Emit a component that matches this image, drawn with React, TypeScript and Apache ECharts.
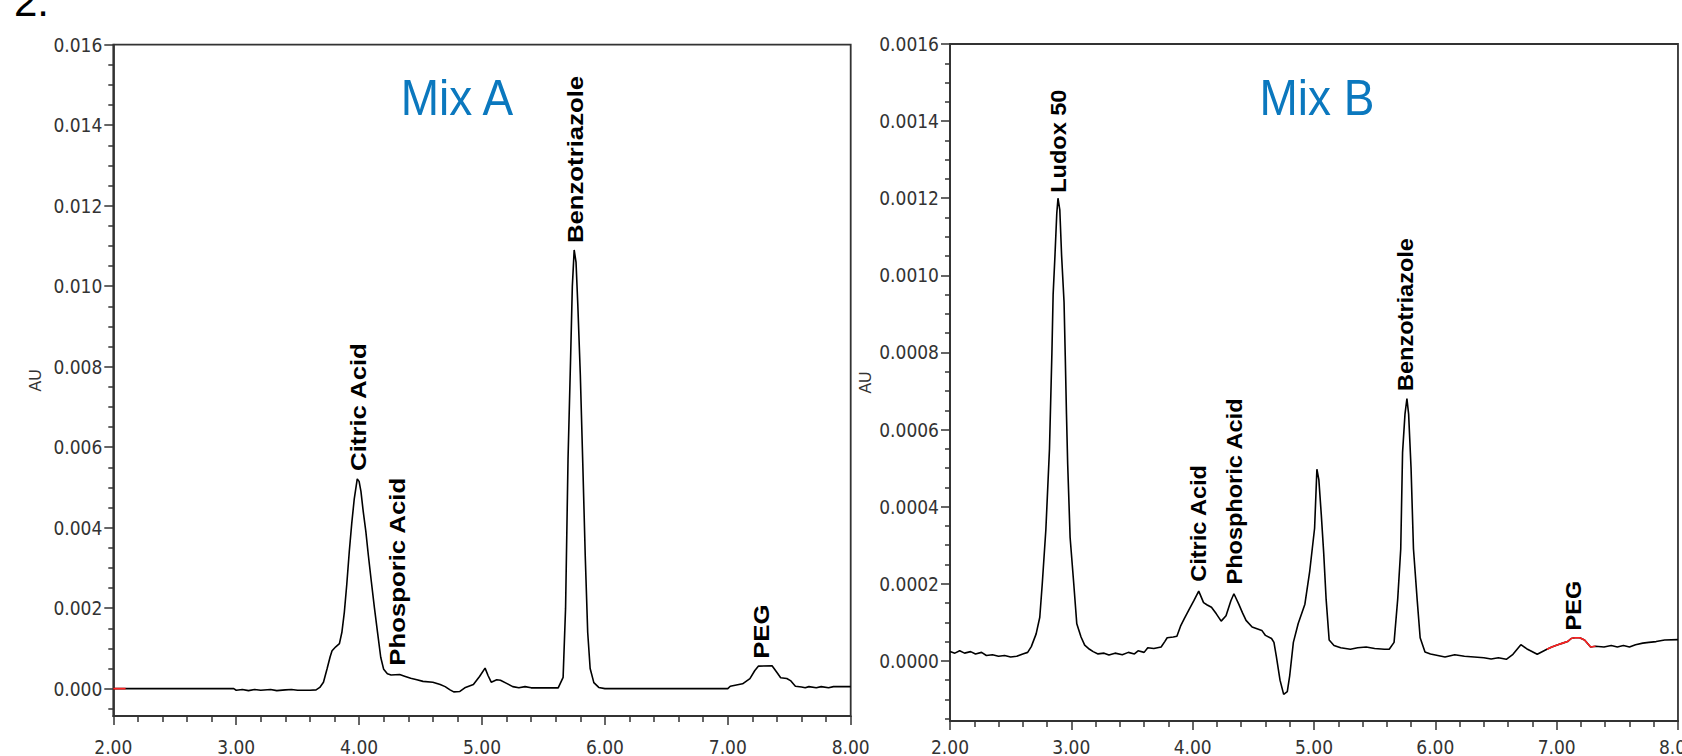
import React, { useEffect, useRef } from "react";
import * as echarts from "echarts";

// ---------- Mix A chromatogram (minutes, AU) ----------
const mixATime = [
  2.0, 2.98, 3.0, 3.05, 3.1, 3.15, 3.2, 3.28, 3.33, 3.4, 3.45, 3.5, 3.6, 3.65,
  3.68, 3.71, 3.74, 3.765, 3.78, 3.81, 3.84, 3.86, 3.88, 3.9, 3.92, 3.94, 3.96,
  3.985, 4.0, 4.015, 4.034, 4.055, 4.075, 4.1, 4.125, 4.15, 4.176, 4.2, 4.23,
  4.26, 4.33, 4.37, 4.42, 4.47, 4.52, 4.6, 4.66, 4.7, 4.74, 4.77, 4.82, 4.86,
  4.93, 4.98, 5.025, 5.05, 5.075, 5.12, 5.15, 5.2, 5.25, 5.3, 5.35, 5.4, 5.5,
  5.62, 5.66, 5.68, 5.7, 5.72, 5.735, 5.75, 5.765, 5.78, 5.8, 5.82, 5.84, 5.86,
  5.88, 5.91, 5.95, 6.0, 7.0, 7.02, 7.12, 7.18, 7.22, 7.25, 7.36, 7.4, 7.43,
  7.48, 7.51, 7.55, 7.6, 7.63, 7.66, 7.72, 7.76, 7.82, 7.86, 7.92, 8.0,
];
const mixAAU = [
  0, 0, -0.00004, -0.00002, -0.00005, -0.00002, -0.00004, -0.00002, -0.00005,
  -0.00003, -0.00002, -0.00004, -0.00004, -0.00003, 0.00003, 0.00016, 0.0005,
  0.0008, 0.00094, 0.00104, 0.00112, 0.0014, 0.0019, 0.0026, 0.0034, 0.0041,
  0.0047, 0.00521, 0.00515, 0.0049, 0.00439, 0.0039, 0.00332, 0.00265, 0.002,
  0.0014, 0.00078, 0.00048, 0.00037, 0.00034, 0.00035, 0.00031, 0.00026,
  0.00022, 0.00018, 0.00016, 0.0001, 0.00005, -0.00003, -0.00008, -0.00007,
  0.00002, 0.0001, 0.0003, 0.00051, 0.00032, 0.00016, 0.00022, 0.00021, 0.00013,
  0.00005, 0.00002, 0.00005, 0.00002, 0.00002, 0.00002, 0.00028, 0.002, 0.0057,
  0.0081, 0.01, 0.0109, 0.0106, 0.0095, 0.0078, 0.0056, 0.0033, 0.0014, 0.0005,
  0.00015, 0.00003, 0, 0, 0.00006, 0.00012, 0.00025, 0.00045, 0.00056, 0.00057,
  0.0004, 0.00027, 0.00025, 0.0002, 0.00006, 0.00004, 0.00002, 0.00005, 0.00002,
  0.00005, 0.00002, 0.00005, 0.00005, 0.00005,
];
const mixARedTime = [2.0, 2.1];
const mixARedAU = [0, 0];

// ---------- Mix B chromatogram (minutes, AU) ----------
const mixBTime = [
  2.0, 2.04, 2.08, 2.12, 2.17, 2.21, 2.26, 2.3, 2.35, 2.4, 2.45, 2.5, 2.55, 2.6,
  2.64, 2.67, 2.71, 2.74, 2.76, 2.79, 2.82, 2.84, 2.85, 2.865, 2.88, 2.89, 2.905,
  2.92, 2.94, 2.95, 2.96, 2.97, 2.99, 3.02, 3.045, 3.08, 3.11, 3.15, 3.18, 3.22,
  3.27, 3.31, 3.36, 3.42, 3.47, 3.52, 3.55, 3.6, 3.63, 3.68, 3.74, 3.77, 3.79,
  3.84, 3.87, 3.9, 3.93, 3.98, 4.01, 4.05, 4.09, 4.12, 4.155, 4.195, 4.235,
  4.275, 4.315, 4.34, 4.38, 4.41, 4.44, 4.49, 4.57, 4.6, 4.65, 4.67, 4.69, 4.72,
  4.75, 4.78, 4.8, 4.83, 4.87, 4.925, 4.965, 5.005, 5.024, 5.04, 5.06, 5.08, 5.1,
  5.125, 5.165, 5.22, 5.3, 5.36, 5.43, 5.5, 5.58, 5.62, 5.66, 5.69, 5.715, 5.73,
  5.75, 5.766, 5.78, 5.8, 5.82, 5.85, 5.875, 5.915, 5.96, 6.02, 6.08, 6.16, 6.24,
  6.32, 6.4, 6.46, 6.52, 6.585, 6.64, 6.705, 6.76, 6.84, 7.39, 7.45,
  7.5, 7.55, 7.6, 7.65, 7.71, 7.76, 7.82, 7.89, 8.0,
];
const mixBAU = [
  0.000024, 0.00002, 0.000026, 0.00002, 0.000024, 0.000018, 0.000022, 0.000014,
  0.000016, 0.000012, 0.000014, 0.00001, 0.000012, 0.000018, 0.000022, 0.000037,
  0.00007, 0.000113, 0.000198, 0.00034, 0.00055, 0.0008, 0.00095, 0.00105,
  0.00116, 0.0012, 0.00117, 0.00105, 0.00093, 0.00079, 0.00064, 0.00051, 0.00032,
  0.0002, 0.000096, 0.000062, 0.000041, 0.00003, 0.000024, 0.000018, 0.00002,
  0.000015, 0.00002, 0.000016, 0.000022, 0.000018, 0.000026, 0.000022, 0.000034,
  0.000032, 0.000036, 0.00005, 0.00006, 0.000062, 0.000064, 0.00009, 0.000109,
  0.000139, 0.000156, 0.000181, 0.000151, 0.000145, 0.000139, 0.000122,
  0.000103, 0.000117, 0.000156, 0.000174, 0.000147, 0.000125, 0.000105,
  0.000088, 0.000079, 0.000066, 0.000058, 0.000048, 0.000011, -0.00005,
  -0.000087, -0.00008, -0.000038, 0.000048, 0.000097, 0.000147, 0.000233,
  0.000344, 0.000497, 0.00047, 0.00038, 0.00028, 0.00016, 0.000054, 0.00004,
  0.000034, 0.00003, 0.000034, 0.000036, 0.000032, 0.00003, 0.00003, 0.000048,
  0.00016, 0.00029, 0.00054, 0.00064, 0.00068, 0.00064, 0.0005, 0.00029,
  0.00016, 0.00006, 0.000023, 0.000018, 0.000014, 0.00001, 0.000016, 0.000012,
  0.00001, 0.000008, 0.000005, 0.000008, 0.000004, 0.000017, 0.000042, 0.00003,
  0.000017, 0.000036, 0.00004, 0.000036, 0.00004, 0.000036,
  0.000042, 0.000046, 0.000048, 0.00005, 0.000054, 0.000055,
];
// PEG integration segment (drawn in red, part of the Mix B trace)
const mixBRedTime = [6.92, 6.96, 7.01, 7.05, 7.09, 7.12, 7.15, 7.19, 7.23, 7.28, 7.32];
const mixBRedAU = [
  0.00003, 0.000036, 0.000042, 0.000046, 0.00005, 0.000058, 0.00006, 0.00006,
  0.000054, 0.000036, 0.000038,
];

// ---------- peak labels ----------
const mixALabelNames = ["Citric Acid", "Phosporic Acid", "Benzotriazole", "PEG"];
const mixALabelTime = [3.99, 4.31, 5.762, 7.27];
const mixALabelAU = [0.00541, 0.00057, 0.01107, 0.00074];

const mixBLabelNames = ["Ludox 50", "Citric Acid", "Phosphoric Acid", "Benzotriazole", "PEG"];
const mixBLabelTime = [2.889, 4.049, 4.34, 5.755, 7.14];
const mixBLabelAU = [0.001214, 0.000205, 0.000198, 0.0007, 0.000079];

// ---------- axes ----------
const xTickValues = [2, 3, 4, 5, 6, 7, 8];
const mixAYTicks = [0, 0.002, 0.004, 0.006, 0.008, 0.01, 0.012, 0.014, 0.016];
const mixBYTicks = [0, 0.0002, 0.0004, 0.0006, 0.0008, 0.001, 0.0012, 0.0014, 0.0016];
const mixAYRange = [-0.00068, 0.016];
const mixBYRange = [-0.000156, 0.0016];

const minorOf = (majors: number[], below: number) => {
  const step = (majors[1] - majors[0]) / 4;
  const out: number[] = [];
  for (let k = 1; k <= below; k++) out.push(+(-step * k).toFixed(8));
  for (let i = 0; i < majors.length - 1; i++) {
    for (let k = 1; k < 4; k++) out.push(+(majors[i] + step * k).toFixed(8));
  }
  return out;
};

const pairs = (xs: number[], ys: number[]) => xs.map((x, i) => [x, ys[i]]);
const merged = (a: number[][], b: number[][]) => [...a, ...b].sort((p, q) => p[0] - q[0]);

const TICK_FONT = "'Liberation Sans Narrow','Arial Narrow','DejaVu Sans Condensed',sans-serif";
const SANS = "'Liberation Sans',Arial,Helvetica,sans-serif";
const AXIS_COLOR = "#333";

export default function App() {
  const ref = useRef<HTMLDivElement>(null);

  useEffect(() => {
    if (!ref.current) return;
    const chart = echarts.init(ref.current, undefined, { renderer: "svg" });

    const xAxis = (gridIndex: number, margin: number) => ({
      type: "value",
      gridIndex,
      min: xTickValues[0],
      max: xTickValues[xTickValues.length - 1],
      interval: 1,
      axisLine: { show: true, onZero: false, lineStyle: { color: AXIS_COLOR, width: 1.8 } },
      axisTick: { show: true, length: 9, lineStyle: { color: AXIS_COLOR, width: 1.5 } },
      minorTick: { show: true, splitNumber: 5, length: 6, lineStyle: { color: AXIS_COLOR, width: 1.5 } },
      splitLine: { show: false },
      minorSplitLine: { show: false },
      axisLabel: {
        margin,
        color: AXIS_COLOR,
        fontFamily: TICK_FONT,
        fontSize: 19,
        formatter: (v: number) => v.toFixed(2),
      },
    });

    const yMajor = (gridIndex: number, range: number[], ticks: number[], dec: number, gap: number) => ({
      type: "value",
      gridIndex,
      position: "left",
      min: range[0],
      max: range[1],
      axisLine: { show: true, onZero: false, lineStyle: { color: AXIS_COLOR, width: 1.8 } },
      axisTick: { show: true, length: 9, customValues: ticks, lineStyle: { color: AXIS_COLOR, width: 1.5 } },
      axisLabel: {
        customValues: ticks,
        margin: 11,
        color: AXIS_COLOR,
        fontFamily: TICK_FONT,
        fontSize: 19,
        formatter: (v: number) => v.toFixed(dec),
      },
      splitLine: { show: false },
      name: "AU",
      nameLocation: "middle",
      nameGap: gap,
      nameTextStyle: { color: AXIS_COLOR, fontFamily: SANS, fontSize: 16 },
    });

    const yMinor = (gridIndex: number, range: number[], ticks: number[], below: number) => ({
      type: "value",
      gridIndex,
      position: "left",
      min: range[0],
      max: range[1],
      axisLine: { show: false, onZero: false },
      axisTick: { show: true, length: 5, customValues: minorOf(ticks, below), lineStyle: { color: AXIS_COLOR, width: 1.5 } },
      axisLabel: { show: false },
      splitLine: { show: false },
    });

    const labelSeries = (axisIndex: number, names: string[], times: number[], aus: number[], stretch: number) => ({
      type: "custom",
      xAxisIndex: axisIndex,
      yAxisIndex: axisIndex * 2,
      data: pairs(times, aus),
      silent: true,
      clip: false,
      z: 5,
      renderItem: (params: any, api: any) => {
        const p = api.coord([api.value(0), api.value(1)]);
        return {
          type: "text",
          x: p[0],
          y: p[1],
          rotation: Math.PI / 2,
          scaleX: stretch,
          style: {
            text: names[params.dataIndex],
            fill: "#000",
            font: `bold 22px ${SANS}`,
            align: "left",
            verticalAlign: "middle",
            textAlign: "left",
            textVerticalAlign: "middle",
          },
        };
      },
    });

    const lineSeries = (axisIndex: number, data: number[][], color: string) => ({
      type: "line",
      xAxisIndex: axisIndex,
      yAxisIndex: axisIndex * 2,
      data,
      showSymbol: false,
      symbol: "none",
      silent: true,
      lineStyle: { color, width: 1.6 },
      z: color === "#000" ? 3 : 4,
    });

    const mixAData = merged(pairs(mixATime, mixAAU), []);
    const mixBData = merged(pairs(mixBTime, mixBAU), pairs(mixBRedTime, mixBRedAU));

    chart.setOption({
      animation: false,
      backgroundColor: "#fff",
      grid: [
        { left: 113.3, top: 44.7, width: 737.4, height: 678, show: true, borderColor: AXIS_COLOR, borderWidth: 1.8, containLabel: false },
        { left: 950, top: 44, width: 745.8, height: 687.7, show: true, borderColor: AXIS_COLOR, borderWidth: 1.8, containLabel: false },
      ],
      xAxis: [xAxis(0, 21), xAxis(1, 16)],
      yAxis: [
        yMajor(0, mixAYRange, mixAYTicks, 3, 70),
        yMinor(0, mixAYRange, mixAYTicks, 1),
        yMajor(1, mixBYRange, mixBYTicks, 4, 77),
        yMinor(1, mixBYRange, mixBYTicks, 3),
      ],
      series: [
        lineSeries(0, mixAData, "#000"),
        lineSeries(0, pairs(mixARedTime, mixARedAU), "#ff2020"),
        lineSeries(1, mixBData, "#000"),
        lineSeries(1, pairs(mixBRedTime, mixBRedAU), "#ff2020"),
        labelSeries(0, mixALabelNames, mixALabelTime, mixALabelAU, 1.17),
        labelSeries(1, mixBLabelNames, mixBLabelTime, mixBLabelAU, 1.07),
      ],
      graphic: [
        {
          type: "text",
          x: 14,
          y: 1,
          style: { text: "2.", fill: "#000", font: `42px ${SANS}`, align: "left", verticalAlign: "middle" },
        },
        {
          type: "text",
          x: 457,
          y: 97.5,
          scaleY: 1.1,
          style: { text: "Mix A", fill: "#0B78BE", font: `46px ${SANS}`, align: "center", verticalAlign: "middle" },
        },
        {
          type: "text",
          x: 1317,
          y: 97.5,
          scaleY: 1.1,
          style: { text: "Mix B", fill: "#0B78BE", font: `46px ${SANS}`, align: "center", verticalAlign: "middle" },
        },
      ],
    });

    return () => chart.dispose();
  }, []);

  return (
    <div style={{ position: "absolute", left: 0, top: 0, width: 1682, height: 756, overflow: "hidden", background: "#fff" }}>
      <div ref={ref} style={{ width: 1700, height: 756 }} />
    </div>
  );
}
